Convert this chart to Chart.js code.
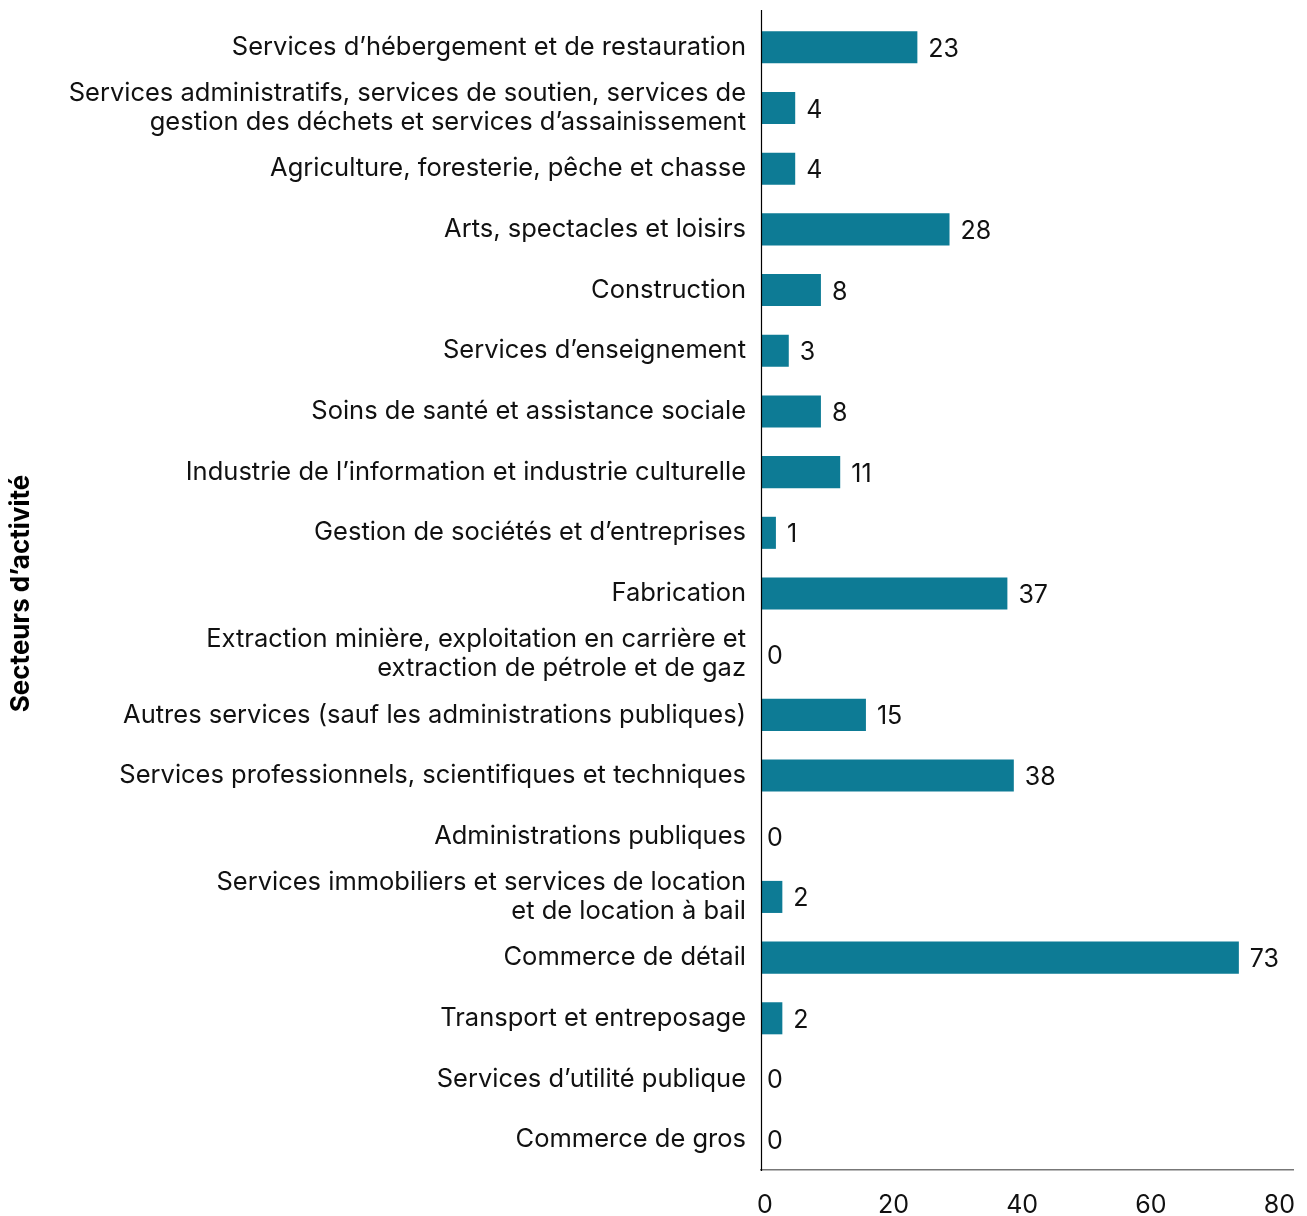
<!DOCTYPE html>
<html>
<head>
<meta charset="utf-8">
<script src="https://cdn.jsdelivr.net/npm/chart.js@4"></script>
<style>
  html, body { margin: 0; padding: 0; background: #fff; }
  #wrap { width: 1307px; height: 1216px; }
</style>
</head>
<body>
<div id="wrap"><canvas id="chart" width="1307" height="1216"></canvas></div>
<script>
const sectors = [
  'Services d\u2019hébergement et de restauration',
  ['Services administratifs, services de soutien, services de', 'gestion des déchets et services d\u2019assainissement'],
  'Agriculture, foresterie, pêche et chasse',
  'Arts, spectacles et loisirs',
  'Construction',
  'Services d\u2019enseignement',
  'Soins de santé et assistance sociale',
  'Industrie de l\u2019information et industrie culturelle',
  'Gestion de sociétés et d\u2019entreprises',
  'Fabrication',
  ['Extraction minière, exploitation en carrière et', 'extraction de pétrole et de gaz'],
  'Autres services (sauf les administrations publiques)',
  'Services professionnels, scientifiques et techniques',
  'Administrations publiques',
  ['Services immobiliers et services de location', 'et de location à bail'],
  'Commerce de détail',
  'Transport et entreposage',
  'Services d\u2019utilité publique',
  'Commerce de gros'
];
const counts = [23, 4, 4, 28, 8, 3, 8, 11, 1, 37, 0, 15, 38, 0, 2, 73, 2, 0, 0];
const xTicks = [0, 20, 40, 60, 80];

const FONT = 'Inter, "Noto Sans", sans-serif';
const INFLATE = 4.5;

// value labels at the end of each bar + the tall y axis line
const barLabels = {
  id: 'barLabels',
  afterDatasetsDraw(chart) {
    const ctx = chart.ctx;
    const meta = chart.getDatasetMeta(0);
    ctx.save();
    ctx.font = '25px ' + FONT;
    ctx.fillStyle = '#111';
    ctx.textAlign = 'left';
    ctx.textBaseline = 'middle';
    meta.data.forEach((bar, i) => {
      const v = counts[i];
      const off = v === 0 ? 2 : 11 + INFLATE;
      ctx.fillText(String(v), bar.x + off, bar.y + 2);
    });
    ctx.restore();
  },
  afterDraw(chart) {
    const ctx = chart.ctx;
    const a = chart.chartArea;
    ctx.save();
    ctx.strokeStyle = '#000';
    ctx.lineWidth = 1.2;
    ctx.beginPath();
    ctx.moveTo(a.left + 0.5, 10);
    ctx.lineTo(a.left + 0.5, a.bottom + 1);
    ctx.stroke();
    ctx.restore();
  }
};

new Chart(document.getElementById('chart').getContext('2d'), {
  type: 'bar',
  data: {
    labels: sectors,
    datasets: [{
      data: counts,
      backgroundColor: '#0d7b95',
      borderWidth: 0,
      inflateAmount: (c) => (c.raw === 0 ? 0 : INFLATE),
      barPercentage: 0.38,
      categoryPercentage: 1
    }]
  },
  options: {
    indexAxis: 'y',
    responsive: false,
    animation: false,
    layout: { padding: { top: 17, right: 14, left: 0, bottom: 0 } },
    plugins: {
      legend: { display: false },
      tooltip: { enabled: false }
    },
    scales: {
      x: {
        min: -0.62,
        max: 82.12,
        afterBuildTicks: (scale) => { scale.ticks = xTicks.map(v => ({ value: v })); },
        afterFit: (scale) => {
          scale.height = 46;
          scale.paddingLeft = 0;
          scale.paddingRight = 0;
        },
        grid: { display: false, drawTicks: false },
        border: { display: true, color: '#777', width: 1.5 },
        ticks: {
          color: '#111',
          padding: 20,
          maxRotation: 0,
          font: { family: FONT, size: 25 }
        }
      },
      y: {
        afterFit: (scale) => {
          scale.width = 761;
          scale.paddingTop = 0;
          scale.paddingBottom = 0;
        },
        grid: { display: false, drawTicks: false },
        border: { display: false },
        ticks: {
          color: '#111',
          padding: 15,
          autoSkip: false,
          font: { family: FONT, size: 25.5, lineHeight: 1.14 }
        },
        title: {
          display: true,
          text: 'Secteurs d\u2019activité',
          color: '#000',
          padding: { top: 6, bottom: 0 },
          font: { family: FONT, size: 26, weight: 'bold' }
        }
      }
    }
  },
  plugins: [barLabels]
});
</script>
</body>
</html>
